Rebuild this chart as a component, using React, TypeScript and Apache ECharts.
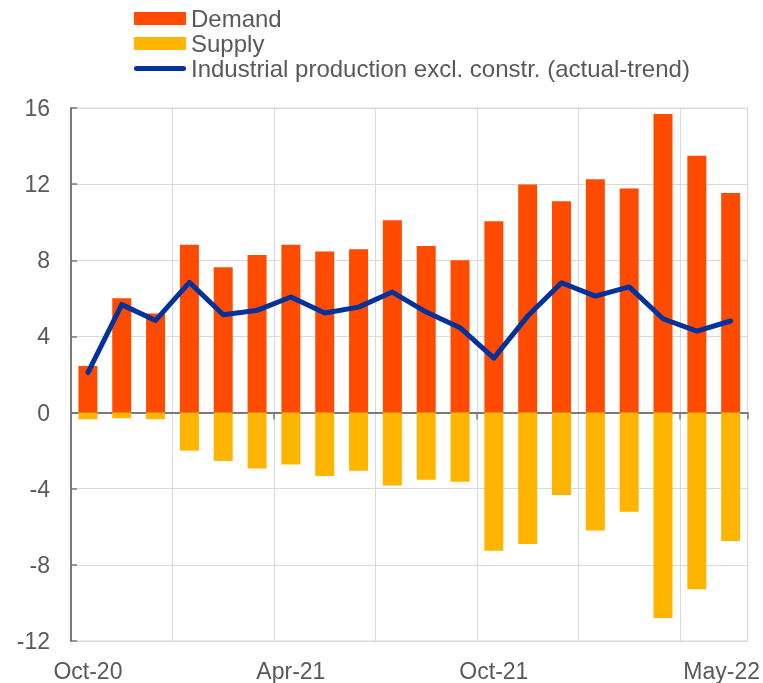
import React, { useEffect, useRef } from "react";
import * as echarts from "echarts";

const categories = [
  "Oct-20", "Nov-20", "Dec-20", "Jan-21", "Feb-21", "Mar-21", "Apr-21", "May-21", "Jun-21", "Jul-21",
  "Aug-21", "Sep-21", "Oct-21", "Nov-21", "Dec-21", "Jan-22", "Feb-22", "Mar-22", "Apr-22", "May-22",
];
const shownLabels = ["Oct-20", "Apr-21", "Oct-21", "May-22"];
const demand = [2.45, 6.0, 5.2, 8.82, 7.63, 8.28, 8.81, 8.46, 8.58, 10.1, 8.75, 8.0, 10.05, 11.98, 11.1, 12.26, 11.77, 15.68, 13.49, 11.53];
const supply = [-0.35, -0.3, -0.35, -2.0, -2.54, -2.94, -2.73, -3.33, -3.05, -3.83, -3.53, -3.63, -7.26, -6.91, -4.33, -6.19, -5.21, -10.79, -9.28, -6.75];
const industrial = [2.1, 5.67, 4.84, 6.84, 5.14, 5.37, 6.07, 5.23, 5.54, 6.33, 5.28, 4.46, 2.86, 5.07, 6.82, 6.12, 6.6, 4.93, 4.28, 4.81];
const yTicks = { min: -12, max: 16, interval: 4 };

const FONT = "'Liberation Sans', Arial, sans-serif";
const TEXT = "#595959";
const AXIS = "#7a7a7a";
const GRID = "#d9d9d9";

export default function App() {
  const ref = useRef<HTMLDivElement>(null);
  useEffect(() => {
    if (!ref.current) return;
    const chart = echarts.init(ref.current, undefined, { renderer: "svg" });
    const last = categories.length - 1;
    chart.setOption({
      animation: false,
      textStyle: { fontFamily: FONT },
      legend: {
        orient: "vertical",
        left: 134,
        top: 6,
        padding: 0,
        itemWidth: 52,
        itemHeight: 13,
        itemGap: 0,
        selectedMode: false,
        textStyle: { fontSize: 24, color: TEXT, fontFamily: FONT, lineHeight: 25 },
        data: [
          { name: "Demand", icon: "rect" },
          { name: "Supply", icon: "rect" },
          {
            name: "Industrial production excl. constr. (actual-trend)",
            icon: "path://M0,0 L0.01,0 M2.5,4 L49.5,4 A2.5,2.5 0 0 1 49.5,9 L2.5,9 A2.5,2.5 0 0 1 2.5,4 Z M52,13 L51.99,13",
          },
        ],
      },
      grid: {
        left: 71,
        top: 108,
        width: 677,
        height: 533,
        show: true,
        borderColor: GRID,
        borderWidth: 1,
      },
      xAxis: [
        {
          type: "category",
          data: categories,
          position: "bottom",
          axisLine: { show: false, onZero: false },
          axisTick: { show: false },
          splitLine: {
            show: true,
            interval: (i: number) => i % 3 === 0,
            lineStyle: { color: GRID, width: 1 },
          },
          axisLabel: {
            interval: (i: number, v: string) => shownLabels.includes(v),
            hideOverlap: false,
            margin: 18,
            fontSize: 23,
            color: TEXT,
            fontFamily: FONT,
            formatter: (v: string, i: number) => (i === last ? "{r|" + v + "}" : v),
            rich: { r: { fontSize: 23, color: TEXT, fontFamily: FONT, padding: [0, 18, 0, 0] } },
          },
        },
        {
          type: "category",
          data: categories,
          position: "bottom",
          axisLine: { show: true, onZero: true, lineStyle: { color: AXIS, width: 2 } },
          axisTick: {
            show: true,
            interval: (i: number) => i % 6 === 0,
            length: 7,
            lineStyle: { color: AXIS, width: 1.5 },
          },
          axisLabel: { show: false },
          splitLine: { show: false },
        },
      ],
      yAxis: {
        type: "value",
        min: yTicks.min,
        max: yTicks.max,
        interval: yTicks.interval,
        axisLine: { show: true, lineStyle: { color: AXIS, width: 2 } },
        axisTick: { show: true, inside: true, length: 6, lineStyle: { color: AXIS, width: 1.5 } },
        splitLine: { show: true, lineStyle: { color: GRID, width: 1 } },
        axisLabel: { fontSize: 23, color: TEXT, margin: 21, fontFamily: FONT },
      },
      series: [
        {
          name: "Demand",
          type: "bar",
          stack: "total",
          data: demand,
          barWidth: 19,
          itemStyle: { color: "#FF4B00" },
        },
        {
          name: "Supply",
          type: "bar",
          stack: "total",
          data: supply,
          barWidth: 19,
          itemStyle: { color: "#FFB400" },
        },
        {
          name: "Industrial production excl. constr. (actual-trend)",
          type: "line",
          data: industrial,
          symbol: "none",
          lineStyle: { color: "#003299", width: 5, cap: "round", join: "round" },
          itemStyle: { color: "#003299" },
          z: 5,
        },
      ],
    });
    return () => chart.dispose();
  }, []);
  return <div ref={ref} style={{ position: "fixed", left: 0, top: 0, width: 763, height: 683 }} />;
}
